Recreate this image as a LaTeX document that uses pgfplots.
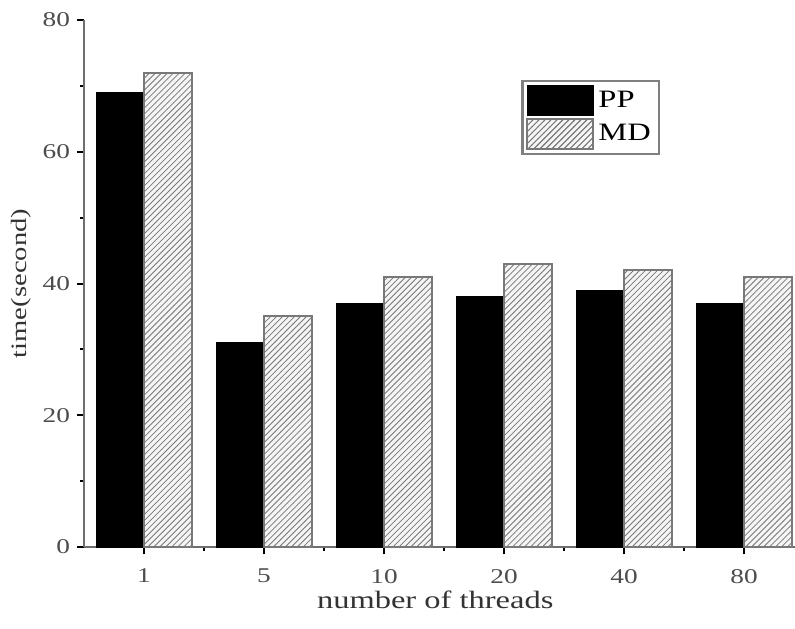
\documentclass[border=0pt]{standalone}
\usepackage{fontspec}
\setmainfont{Liberation Serif}[FakeStretch=1.3]
\usepackage{pgfplots}
\pgfplotsset{compat=1.18}
\usetikzlibrary{patterns}
\definecolor{axisgray}{RGB}{110,110,110}
\definecolor{hatchgray}{RGB}{120,120,120}
\begin{document}
\begin{tikzpicture}
\useasboundingbox (-42bp,-41bp) rectangle (355.5bp,273.5bp);
\begin{axis}[
  at={(0,0)}, anchor=south west,
  scale only axis,
  width=355.5bp, height=263.5bp,
  xmin=-0.5, xmax=5.425,
  ymin=0, ymax=80,
  axis x line*=bottom, axis y line*=left,
  axis line style={axisgray, line width=1.3bp, -},
  ybar=0pt, bar width=24bp,
  xtick={0,1,2,3,4,5},
  xticklabels={1,5,10,20,40,80},
  minor xtick={0.5,1.5,2.5,3.5,4.5},
  ytick={0,20,40,60,80},
  minor ytick={10,30,50,70},
  tick align=outside,
  major tick length=3.5bp, minor tick length=2bp,
  every tick/.style={black, line width=1bp},
  /pgf/number format/assume math mode=true,
  tick label style={font=\fontsize{10.5bp}{12bp}\selectfont, text=black!70},
  x tick label style={yshift=-4bp},
  x label style={at={(axis description cs:0.494,0)}, anchor=center, yshift=-26.5bp, font=\fontsize{12.5bp}{14bp}\selectfont, text=black!80},
  y label style={at={(axis description cs:0,0.5)}, anchor=center, yshift=31.5bp, font=\fontsize{11bp}{13bp}\selectfont, text=black!80},
  xlabel={number of threads},
  ylabel={time(second)},
  legend style={at={(0.615,0.886)}, anchor=north west, draw=gray, line width=1.2bp,
    font=\fontsize{12.5bp}{14bp}\selectfont, inner sep=2bp, row sep=1bp,
    cells={anchor=west}},
  legend cell align=left,
  clip=false,
]
\addplot[fill=black, draw=black, line width=0.5bp,
  legend image code/.code={\draw[fill=black, draw=black] (0bp,-7.5bp) rectangle (33bp,7.5bp);}]
  coordinates {(0,69) (1,31) (2,37) (3,38) (4,39) (5,37)};
\addplot[fill=gray!8, draw=hatchgray, line width=1bp,
  postaction={pattern=north east lines, pattern color=hatchgray},
  legend image code/.code={\draw[fill=gray!8, draw=hatchgray, postaction={pattern=north east lines, pattern color=hatchgray}] (0bp,-7.5bp) rectangle (33bp,7.5bp);}]
  coordinates {(0,72) (1,35) (2,41) (3,43) (4,42) (5,41)};
\legend{PP,MD}
\end{axis}
\end{tikzpicture}
\end{document}
